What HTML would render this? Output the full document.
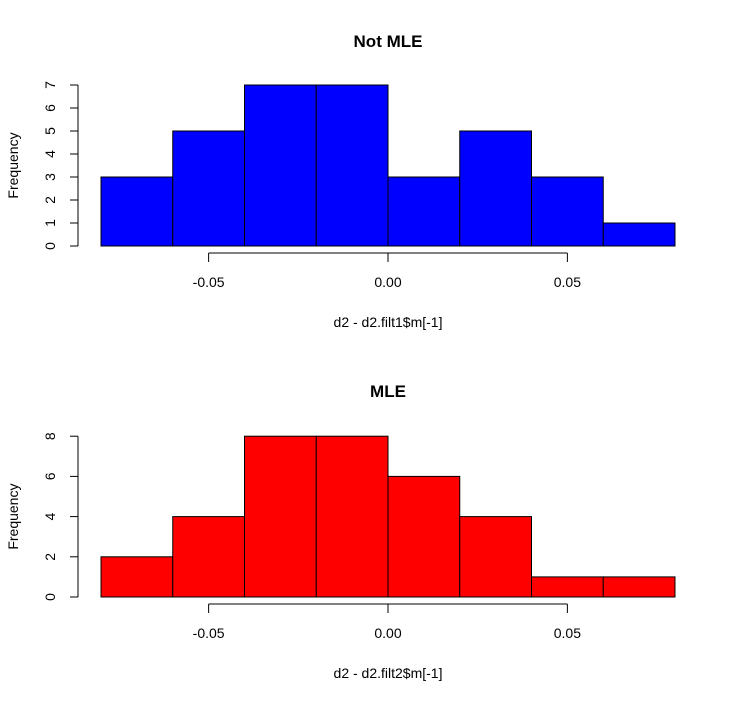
<!DOCTYPE html>
<html><head><meta charset="utf-8"><style>
body{margin:0;background:#fff}
svg text{font-family:"Liberation Sans",Arial,sans-serif;fill:#000}
</style></head><body>
<svg id="s" width="738" height="702"></svg>
<script>
const breaks=[-0.08,-0.06,-0.04,-0.02,0,0.02,0.04,0.06,0.08];
const countsTop=[3,5,7,7,3,5,3,1];
const countsBottom=[2,4,8,8,6,4,1,1];
const xTicks=[-0.05,0,0.05];
const xTickLabels=["-0.05","0.00","0.05"];
const yTicksTop=[0,1,2,3,4,5,6,7];
const yTicksBottom=[0,2,4,6,8];
const svg=document.getElementById('s');
const NS='http://www.w3.org/2000/svg';
function mk(t,a,parent){const e=document.createElementNS(NS,t);for(const k in a)e.setAttribute(k,a[k]);(parent||svg).appendChild(e);return e;}
const x=v=>101+(v+0.08)/0.16*574;
function panel(cfg){
  const g=mk('g',{});
  
  
  const y=v=>cfg.y0-v*cfg.unit;
  cfg.counts.forEach((c,i)=>{
    const r=mk('rect',{x:x(breaks[i]),y:y(c),width:x(breaks[i+1])-x(breaks[i]),height:cfg.y0-y(c),fill:cfg.color,stroke:'#000','stroke-width':1},g);
    
    
  });
  const ya=mk('g',{},g);
  
  
  const yt=cfg.yTicks;
  mk('line',{x1:78,x2:78,y1:y(yt[0]),y2:y(yt[yt.length-1]),stroke:'#000'},ya);
  yt.forEach(t=>{
    mk('line',{x1:70,x2:78,y1:y(t),y2:y(t),stroke:'#000'},ya);
    const tx=mk('text',{x:55,y:y(t),'font-size':14,'text-anchor':'middle',transform:`rotate(-90 55 ${y(t)})`},ya);
    tx.textContent=t;
  });
  const xa=mk('g',{},g);
  
  
  mk('line',{x1:x(xTicks[0]),x2:x(xTicks[xTicks.length-1]),y1:cfg.ax,y2:cfg.ax,stroke:'#000'},xa);
  xTicks.forEach((t,i)=>{
    mk('line',{x1:x(t),x2:x(t),y1:cfg.ax,y2:cfg.ax+9,stroke:'#000'},xa);
    const tx=mk('text',{x:x(t),y:cfg.ax+34,'font-size':14,'text-anchor':'middle'},xa);
    tx.textContent=xTickLabels[i];
  });
  const ti=mk('text',{x:388,y:cfg.title,'font-size':17,'font-weight':'bold','text-anchor':'middle'},g);
  ti.textContent=cfg.titleText;
  
  
  const xl=mk('text',{x:388,y:cfg.ax+74,'font-size':14,'text-anchor':'middle'},g);
  xl.textContent=cfg.xlab;
  
  
  const yc=(cfg.y0+y(yt[yt.length-1]))/2;
  const yl=mk('text',{x:18,y:yc,'font-size':14,'text-anchor':'middle',transform:`rotate(-90 18 ${yc})`},g);
  yl.textContent='Frequency';
  
  
}
panel({name:'panel-not-mle',counts:countsTop,color:'#0000ff',y0:246,unit:23,yTicks:yTicksTop,ax:253,title:47,titleText:'Not MLE',xlab:'d2 - d2.filt1$m[-1]'});
panel({name:'panel-mle',counts:countsBottom,color:'#ff0000',y0:597,unit:20.1,yTicks:yTicksBottom,ax:604,title:397,titleText:'MLE',xlab:'d2 - d2.filt2$m[-1]'});
</script>
</body></html>
